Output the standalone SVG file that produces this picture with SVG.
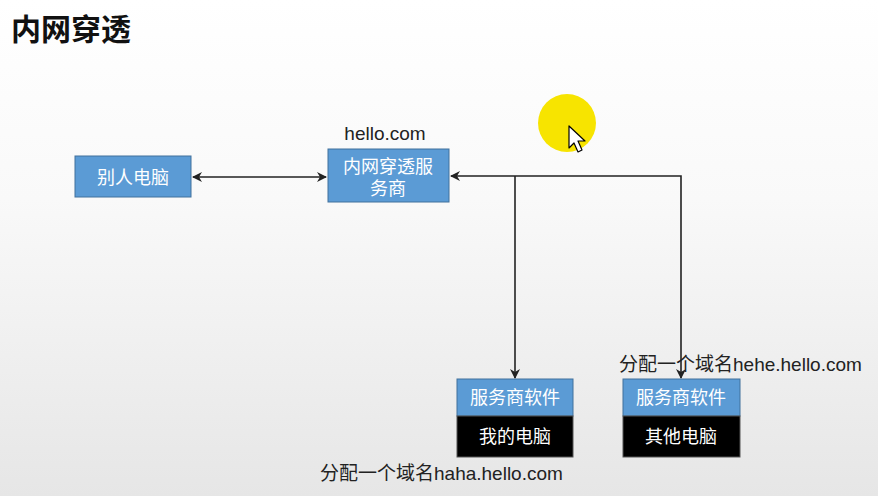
<svg xmlns="http://www.w3.org/2000/svg" width="878" height="496" viewBox="0 0 878 496">
<defs>
<linearGradient id="bg" x1="0" y1="0" x2="0" y2="1">
<stop offset="0" stop-color="#ffffff"/>
<stop offset="0.4" stop-color="#f9f9f9"/>
<stop offset="1" stop-color="#e6e6e6"/>
</linearGradient>
<marker id="arr" viewBox="0 0 10 10" refX="9" refY="5" markerWidth="10" markerHeight="10" markerUnits="userSpaceOnUse" orient="auto-start-reverse">
<path d="M0,0 L10,5 L0,10 L3,5 Z" fill="#222"/>
</marker>
<style>
.blue{fill:#5b9bd5;stroke:#41719c;stroke-width:1}
.black{fill:#000;stroke:#555;stroke-width:1}
.bt{font-family:"Liberation Sans","Noto Sans CJK SC",sans-serif;font-size:18px;fill:#fff;text-anchor:middle}
.lbl{font-family:"Liberation Sans","Noto Sans CJK SC",sans-serif;font-size:19px;fill:#222}
.ln{fill:none;stroke:#222;stroke-width:1.6}
</style>
</defs>
<rect width="878" height="496" fill="url(#bg)"/>
<text x="11" y="40" font-family="'Noto Sans CJK SC',sans-serif" font-weight="bold" font-size="30" fill="#111">内网穿透</text>

<g id="connectors">
<line class="ln" x1="193" y1="177" x2="326" y2="177" marker-start="url(#arr)" marker-end="url(#arr)"/>
<polyline class="ln" points="681,378 681,176 451,176" marker-start="url(#arr)" marker-end="url(#arr)"/>
<line class="ln" x1="515" y1="176" x2="515" y2="378" marker-end="url(#arr)"/>
</g>

<g id="node-other">
<rect class="blue" x="75" y="156" width="116" height="41"/>
<text class="bt" x="133" y="184">别人电脑</text>
</g>

<g id="node-provider">
<text class="lbl" x="385" y="140" text-anchor="middle" font-size="18">hello.com</text>
<rect class="blue" x="328" y="149" width="121" height="53"/>
<text class="bt" x="388" y="173">内网穿透服</text>
<text class="bt" x="388" y="195">务商</text>
</g>

<g id="node-mine">
<rect class="blue" x="457" y="379" width="116" height="37"/>
<text class="bt" x="515" y="404">服务商软件</text>
<rect class="black" x="457" y="416" width="116" height="41"/>
<text class="bt" x="515" y="443">我的电脑</text>
<text class="lbl" x="320" y="480">分配一个域名haha.hello.com</text>
</g>

<g id="node-others">
<text class="lbl" x="619" y="371">分配一个域名hehe.hello.com</text>
<rect class="blue" x="623" y="379" width="117" height="37"/>
<text class="bt" x="681" y="404">服务商软件</text>
<rect class="black" x="623" y="416" width="117" height="41"/>
<text class="bt" x="681" y="443">其他电脑</text>
</g>

<g id="pointer">
<circle cx="567" cy="123" r="29" fill="#f7e400"/>
<polygon points="569,126 569,148 574,143 578,152 582,150 578,141 585,141" fill="#fff" stroke="#000" stroke-width="1.2" stroke-linejoin="round"/>
</g>
</svg>
